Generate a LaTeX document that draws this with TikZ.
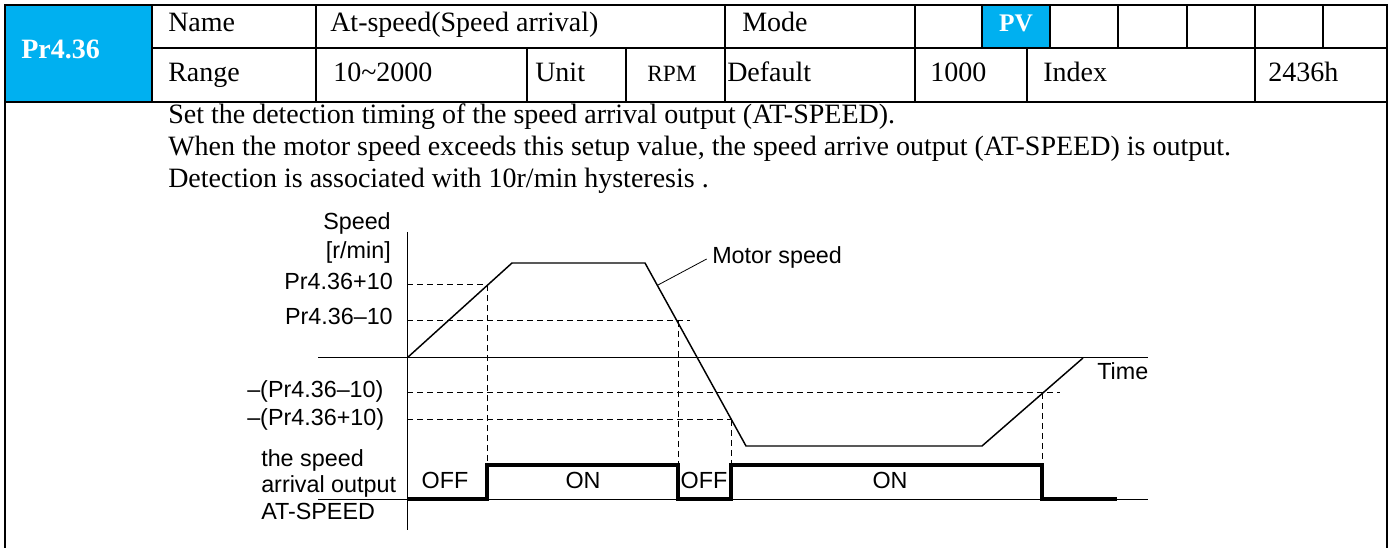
\documentclass[tikz,border=0pt]{standalone}
\usepackage{fontspec}
\setmainfont{Liberation Serif}
\newfontfamily\chartfont{Liberation Sans}
\usepackage{xcolor}
\definecolor{parblue}{RGB}{0,176,240}

\begin{document}
\begin{tikzpicture}[x=0.75pt,y=0.75pt,yscale=-1,xscale=1,
  tabline/.style={line width=1.6pt},
  tabtext/.style={anchor=west,inner sep=0pt,text height=0.66em,text depth=0pt,font=\fontsize{21}{25}\selectfont},
  partext/.style={inner sep=0pt,text height=0.66em,text depth=0pt,text=white,font=\bfseries\fontsize{21}{25}\selectfont},
  axislbl/.style={inner sep=0pt,text height=0.72em,text depth=0pt,font=\chartfont\fontsize{17.5}{21}\selectfont},
  levelline/.style={dash pattern={on 4.5pt off 3pt},line width=0.75pt},
  speedline/.style={line width=1.1pt},
  sigline/.style={line width=2.3pt}]
\useasboundingbox (0,0) rectangle (1392,548);

%Shape: blue cells
\fill[parblue] (5,5) rectangle (152,102);
\fill[parblue] (982,5) rectangle (1050,48);

%Shape: table frame
\draw[tabline] (5,548) -- (5,5) -- (1387,5) -- (1387,548);
\draw[tabline] (152,48) -- (1387,48);
\draw[tabline] (5,102) -- (1387,102);
\foreach \x in {152,316,725,915,982,1050,1118,1187,1255,1323}
  \draw[tabline] (\x,5) -- (\x,48);
\foreach \x in {152,316,527,626,725,915,1027,1255}
  \draw[tabline] (\x,48) -- (\x,102);

% Text Node
\node[partext,anchor=west] (par) at (21,54) {Pr4.36};
\node[tabtext] (name) at (168,27) {Name};
\node[tabtext] (nameval) at (330,27) {At-speed(Speed arrival)};
\node[tabtext] (mode) at (742,27) {Mode};
\node[partext,font=\bfseries\fontsize{19}{23}\selectfont] (pv) at (1016,27) {PV};
\node[tabtext] (range) at (168,77) {Range};
\node[tabtext] (rangeval) at (333,77) {10\textasciitilde2000};
\node[tabtext] (unit) at (535,77) {Unit};
\node[tabtext,font=\fontsize{17.5}{21}\selectfont] (unitval) at (647,77) {RPM};
\node[tabtext] (default) at (727,77) {Default};
\node[tabtext] (defval) at (930,77) {1000};
\node[tabtext] (index) at (1043,77) {Index};
\node[tabtext] (indexval) at (1268,77) {2436h};

% Text Node
\node[tabtext] (desca) at (168,119) {Set the detection timing of the speed arrival output (AT-SPEED).};
\node[tabtext] (descb) at (168,151) {When the motor speed exceeds this setup value, the speed arrive output (AT-SPEED) is output.};
\node[tabtext] (descc) at (168,183) {Detection is associated with 10r/min hysteresis .};

%Shape: axes
\draw[line width=0.75pt] (407,232) -- (407,530);
\draw[line width=0.75pt] (318,358) -- (1148,358);
\draw[line width=0.75pt] (318,500) -- (1148,500);

%Shape: dashed levels
\draw[levelline] (407,285) -- (487,285);
\draw[levelline] (407,321) -- (690,321);
\draw[levelline] (407,393) -- (1060,393);
\draw[levelline] (407,420) -- (731,420);
\draw[levelline] (487,285) -- (487,465);
\draw[levelline] (678,321) -- (678,465);
\draw[levelline] (731,420) -- (731,465);
\draw[levelline] (1042,393) -- (1042,465);

%Shape: motor speed
\draw[speedline] (407,358) -- (512,263) -- (645,263) -- (746,446) -- (982,446) -- (1083,358);

%Shape: AT-SPEED output
\draw[sigline] (407,499) -- (487,499) -- (487,465) -- (678,465) -- (678,499) -- (731,499)
  -- (731,465) -- (1042,465) -- (1042,499) -- (1117,499);

% Text Node
\coordinate (lead) at (658,285);
\node[axislbl,anchor=west] (motor) at (712,259) {Motor speed};
\draw[line width=0.6pt] (lead) -- ([xshift=-4pt]motor.west);
\node[axislbl,anchor=west] (time) at (1097,375) {Time};
\node[axislbl,anchor=east] (spd) at (391,225) {Speed};
\node[axislbl,anchor=east] (spdunit) at (391,254) {[r/min]};
\node[axislbl,anchor=east] (hi) at (393,285) {Pr4.36+10};
\node[axislbl,anchor=east] (lo) at (393,320) {Pr4.36\textendash10};
\node[axislbl,anchor=west] (neglo) at (247,393) {\textendash(Pr4.36\textendash10)};
\node[axislbl,anchor=west] (neghi) at (247,421) {\textendash(Pr4.36+10)};
\node[axislbl,anchor=west] (outa) at (261,462) {the speed};
\node[axislbl,anchor=west] (outb) at (261,488) {arrival output};
\node[axislbl,anchor=west] (outc) at (261,515) {AT-SPEED};
\node[axislbl] (offa) at (445,484) {OFF};
\node[axislbl] (ona) at (583,484) {ON};
\node[axislbl] (offb) at (704,484) {OFF};
\node[axislbl] (onb) at (890,484) {ON};

\end{tikzpicture}
\end{document}
